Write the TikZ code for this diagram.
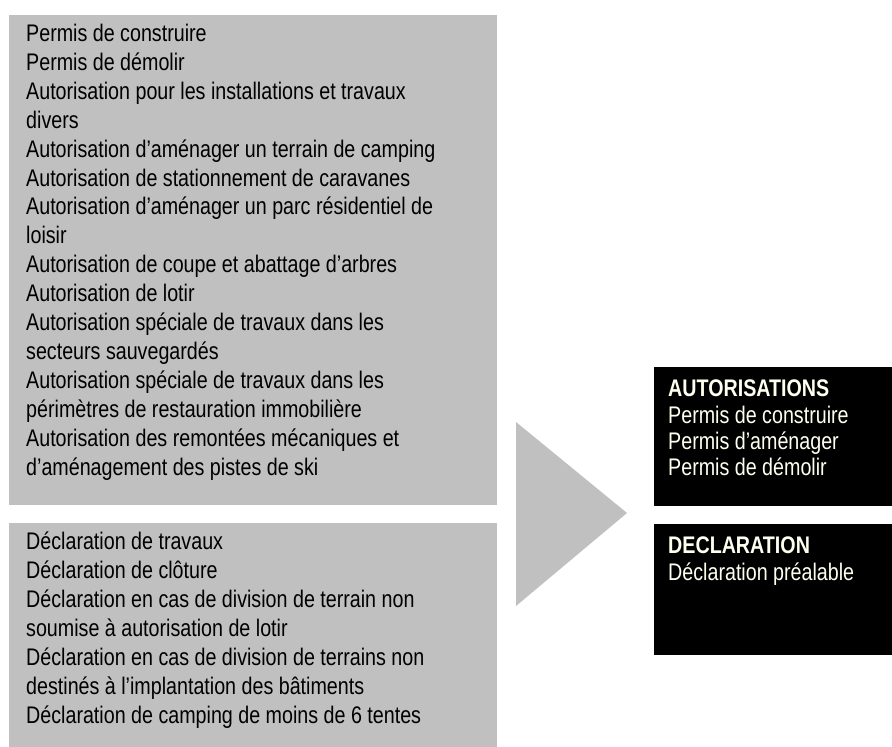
\documentclass[tikz,border=0pt]{standalone}
\usepackage{fontspec}
\setmainfont{Liberation Sans}[FakeStretch=0.82]
\usetikzlibrary{positioning}

\definecolor{panelgray}{RGB}{192,192,192}
\definecolor{ivory}{RGB}{255,255,240}

\tikzset{
  graybox/.style={fill=panelgray,inner sep=0pt,anchor=north west},
  blackbox/.style={fill=black,inner sep=0pt,anchor=north west},
  listtext/.style={inner sep=0pt,align=left,
    font=\fontsize{24}{28.9}\selectfont,
    execute at begin node={\rule{0pt}{22pt}}},
  newtext/.style={listtext,text=ivory,
    font=\fontsize{24}{26.3}\selectfont}
}

\begin{document}
\begin{tikzpicture}[x=1pt,y=1pt]

\useasboundingbox (0,0) rectangle (892,-747);

% Old authorisations
\node[graybox,minimum width=488pt,minimum height=490pt] (oldauth) at (9,-15) {};
\node[listtext,below right=9pt and 17pt of oldauth.north west] (oldauthlist)
  {Permis de construire\\
   Permis de démolir\\
   Autorisation pour les installations et travaux\\
   divers\\
   Autorisation d’aménager un terrain de camping\\
   Autorisation de stationnement de caravanes\\
   Autorisation d’aménager un parc résidentiel de\\
   loisir\\
   Autorisation de coupe et abattage d’arbres\\
   Autorisation de lotir\\
   Autorisation spéciale de travaux dans les\\
   secteurs sauvegardés\\
   Autorisation spéciale de travaux dans les\\
   périmètres de restauration immobilière\\
   Autorisation des remontées mécaniques et\\
   d’aménagement des pistes de ski};

% Old declarations
\node[graybox,minimum width=488pt,minimum height=224pt] (olddecl) at (9,-523) {};
\node[listtext,below right=9pt and 17pt of olddecl.north west] (olddecllist)
  {Déclaration de travaux\\
   Déclaration de clôture\\
   Déclaration en cas de division de terrain non\\
   soumise à autorisation de lotir\\
   Déclaration en cas de division de terrains non\\
   destinés à l’implantation des bâtiments\\
   Déclaration de camping de moins de 6 tentes};

% Arrow
\fill[panelgray] (516,-422) -- (627,-513) -- (516,-606) -- cycle;

% New procedures
\node[blackbox,minimum width=238pt,minimum height=139pt] (newauth) at (654,-367) {};
\node[newtext,below right=13pt and 14pt of newauth.north west] (newauthlist)
  {{\bfseries AUTORISATIONS}\\
   Permis de construire\\
   Permis d’aménager\\
   Permis de démolir};

\node[blackbox,minimum width=238pt,minimum height=131pt] (newdecl) at (654,-524) {};
\node[newtext,below right=13pt and 14pt of newdecl.north west] (newdecllist)
  {{\bfseries DECLARATION}\\
   Déclaration préalable};

\end{tikzpicture}
\end{document}
